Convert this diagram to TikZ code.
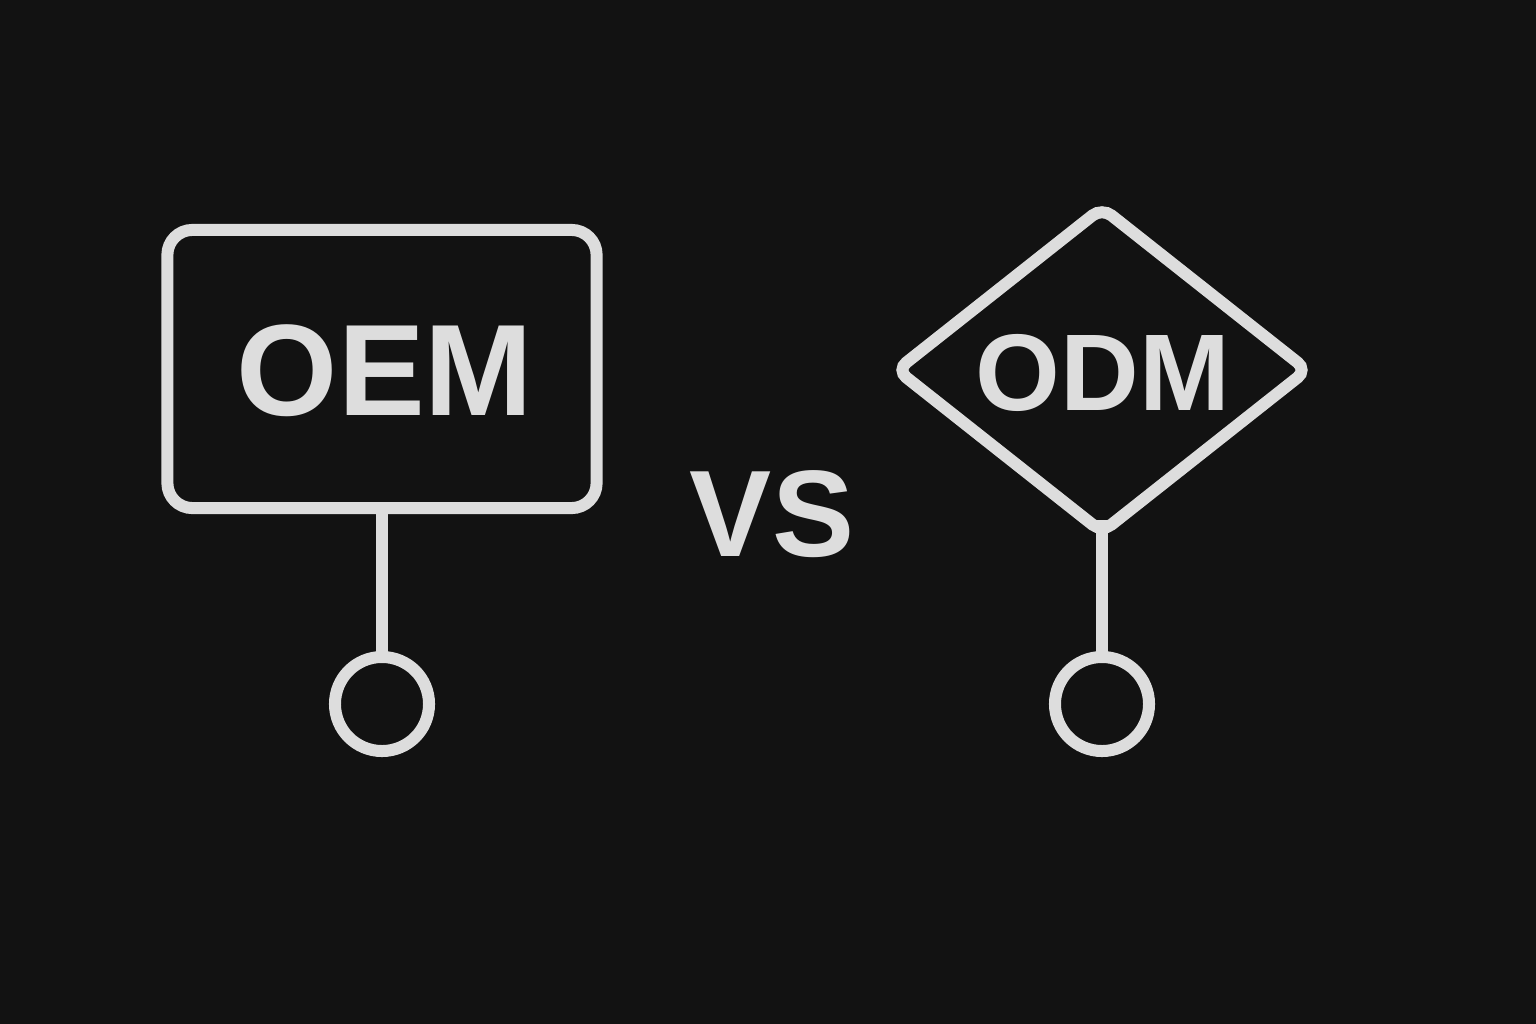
\documentclass[tikz,border=0pt]{standalone}
\usepackage{fontspec}
\setmainfont{Liberation Sans}
\usetikzlibrary{shapes.geometric}
\definecolor{bgdark}{HTML}{121212}
\definecolor{chalk}{HTML}{DDDDDD}
\tikzset{
  outline/.style={draw=chalk, line width=0.12cm, outer sep=0pt},
  label/.style={text=chalk, font=\bfseries},
}
\begin{document}
\begin{tikzpicture}[x=0.01cm, y=-0.01cm]
        \fill[bgdark] (0,0) rectangle (1536,1024);
        \useasboundingbox (0,0) rectangle (1536,1024);

        \node[outline, rectangle, rounded corners=0.25cm, minimum width=4.29cm, minimum height=2.78cm] (oem) at (382,369) {};
        \node[label, font=\bfseries\fontsize{37}{40}\selectfont] (oemtext) at (385,371) {OEM};
        \node[outline, circle, minimum size=0.94cm, inner sep=0pt] (oemdot) at (382,704) {};

        \node[label, font=\bfseries\fontsize{35}{38}\selectfont] (vs) at (772,514) {VS};

        \node[outline, diamond, rounded corners=0.12cm, minimum width=4.1cm, minimum height=3.24cm, inner sep=0pt] (odm) at (1102,370) {};
        \node[label, font=\bfseries\fontsize{31}{34}\selectfont] (odmtext) at (1103,373) {ODM};
        \node[outline, circle, minimum size=0.94cm, inner sep=0pt] (odmdot) at (1102,704) {};

        \draw[outline] (oem.south) -- (oemdot.north);
        \draw[outline, shorten <=-0.12cm] (odm.south) -- (odmdot.north);
      \end{tikzpicture}
\end{document}
